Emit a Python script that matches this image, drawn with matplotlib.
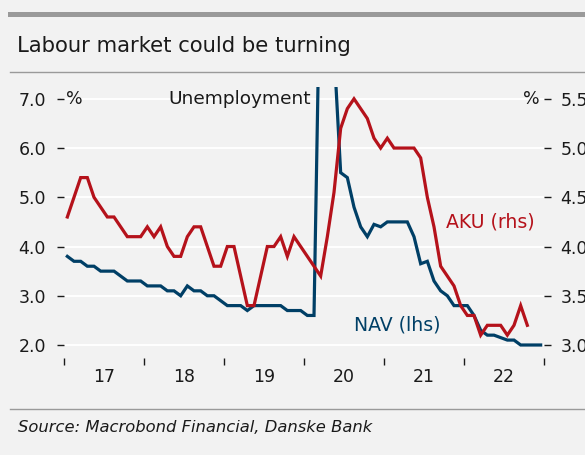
import matplotlib
matplotlib.use("Agg")
import matplotlib.pyplot as plt
import numpy as np

plt.rcParams['font.family'] = ['DejaVu Sans']

# Monthly data, Jan 2017 onwards
nav_lhs = [3.8, 3.7, 3.7, 3.6, 3.6, 3.5, 3.5, 3.5, 3.4, 3.3, 3.3, 3.3,
           3.2, 3.2, 3.2, 3.1, 3.1, 3.0, 3.2, 3.1, 3.1, 3.0, 3.0, 2.9,
           2.8, 2.8, 2.8, 2.7, 2.8, 2.8, 2.8, 2.8, 2.8, 2.7, 2.7, 2.7,
           2.6, 2.6, 10.4, 10.6, 8.0, 5.5, 5.4, 4.8, 4.4, 4.2, 4.45, 4.4,
           4.5, 4.5, 4.5, 4.5, 4.2, 3.65, 3.7, 3.3, 3.1, 3.0, 2.8, 2.8,
           2.8, 2.6, 2.3, 2.2, 2.2, 2.15, 2.1, 2.1, 2.0, 2.0, 2.0, 2.0]
aku_rhs = [4.3, 4.5, 4.7, 4.7, 4.5, 4.4, 4.3, 4.3, 4.2, 4.1, 4.1, 4.1,
           4.2, 4.1, 4.2, 4.0, 3.9, 3.9, 4.1, 4.2, 4.2, 4.0, 3.8, 3.8,
           4.0, 4.0, 3.7, 3.4, 3.4, 3.7, 4.0, 4.0, 4.1, 3.9, 4.1, 4.0,
           3.9, 3.8, 3.7, 4.1, 4.55, 5.2, 5.4, 5.5, 5.4, 5.3, 5.1, 5.0,
           5.1, 5.0, 5.0, 5.0, 5.0, 4.9, 4.5, 4.2, 3.8, 3.7, 3.6, 3.4,
           3.3, 3.3, 3.1, 3.2, 3.2, 3.2, 3.1, 3.2, 3.4, 3.2]
start_year = 2017
years = [2017, 2018, 2019, 2020, 2021, 2022, 2023]
year_labels = ['17', '18', '19', '20', '21', '22']
left_ticks = [2.0, 3.0, 4.0, 5.0, 6.0, 7.0]
right_ticks = [3.0, 3.5, 4.0, 4.5, 5.0, 5.5]

BG = '#f2f2f2'
RED = '#b5121b'
BLUE = '#003f66'
GREY_LINE = '#9a9a9a'
TXT = '#1a1a1a'

W, H = 585, 455
fig = plt.figure(figsize=(W / 100, H / 100), dpi=100, facecolor=BG)

def fx(px):
    return px / W

def fy(py):
    return 1 - py / H

# decorations
fig.add_artist(plt.Line2D([fx(10), 1], [fy(13.5), fy(13.5)], color=GREY_LINE, lw=3.6))
fig.add_artist(plt.Line2D([fx(10), 1], [fy(72), fy(72)], color=GREY_LINE, lw=1.0))
fig.add_artist(plt.Line2D([fx(10), 1], [fy(409), fy(409)], color=GREY_LINE, lw=1.0))
fig.text(fx(17), fy(46), 'Labour market could be turning', fontsize=15.2,
         color=TXT, va='center', ha='left')
fig.text(fx(18), fy(428), 'Source: Macrobond Financial, Danske Bank', fontsize=11.75,
         style='italic', color=TXT, va='center', ha='left')

# axes
left_px, right_px, top_px, bottom_px = 64, 544, 86.5, 358
ax = fig.add_axes([fx(left_px), fy(bottom_px), fx(right_px - left_px),
                   (bottom_px - top_px) / H])
ax.set_facecolor(BG)
ylo, yhi = 1.736, 7.25
ax.set_ylim(ylo, yhi)
ax.set_xlim(2017, 2023)

x_nav = start_year + (np.arange(len(nav_lhs)) + 0.5) / 12
x_aku = start_year + (np.arange(len(aku_rhs)) + 0.5) / 12

ax.plot(x_nav, nav_lhs, color=BLUE, lw=2.3, solid_joinstyle='miter', zorder=3)

ax2 = ax.twinx()
ax2.set_ylim(3 + (ylo - 2) / 2, 3 + (yhi - 2) / 2)
ax2.plot(x_aku, aku_rhs, color=RED, lw=2.3, solid_joinstyle='miter', zorder=3)
ax2.patch.set_visible(False)

for a in (ax, ax2):
    for s in a.spines.values():
        s.set_visible(False)

ax.set_yticks(left_ticks)
ax.set_yticklabels([f'{v:.1f}' for v in left_ticks])
ax2.set_yticks(right_ticks)
ax2.set_yticklabels([f'{v:.1f}' for v in right_ticks])
ax.grid(axis='y', color='white', lw=1.4, zorder=0)
ax.set_axisbelow(True)

ax.tick_params(axis='y', length=5, width=1, color=TXT, pad=8, labelsize=12.5,
               labelcolor=TXT, direction='out')
ax2.tick_params(axis='y', length=5, width=1, color=TXT, pad=7, labelsize=12.5,
                labelcolor=TXT, direction='out')

ax.set_xticks(years)
ax.set_xticklabels([])
ax.set_xticks([y + 0.5 for y in years[:-1]], minor=True)
ax.set_xticklabels(year_labels, minor=True)
ax.tick_params(axis='x', which='major', length=5, width=1, color=TXT, direction='out')
ax.tick_params(axis='x', which='minor', length=0, pad=7.5, labelsize=12.5, labelcolor=TXT)

# texts
ax.text(2017.02, 7.0, '%', fontsize=12.5, color=TXT, va='center', ha='left')
ax.text(2022.94, 7.0, '%', fontsize=12.5, color=TXT, va='center', ha='right')
ax.text(2018.3, 7.0, 'Unemployment', fontsize=13.3, color=TXT, va='center', ha='left')
ax.text(2021.775, 4.5, 'AKU (rhs)', fontsize=13.6, color=RED, va='center', ha='left')
ax.text(2020.625, 2.41, 'NAV (lhs)', fontsize=13.6, color=BLUE, va='center', ha='left')

fig.savefig('out.png', dpi=100, facecolor=BG)
